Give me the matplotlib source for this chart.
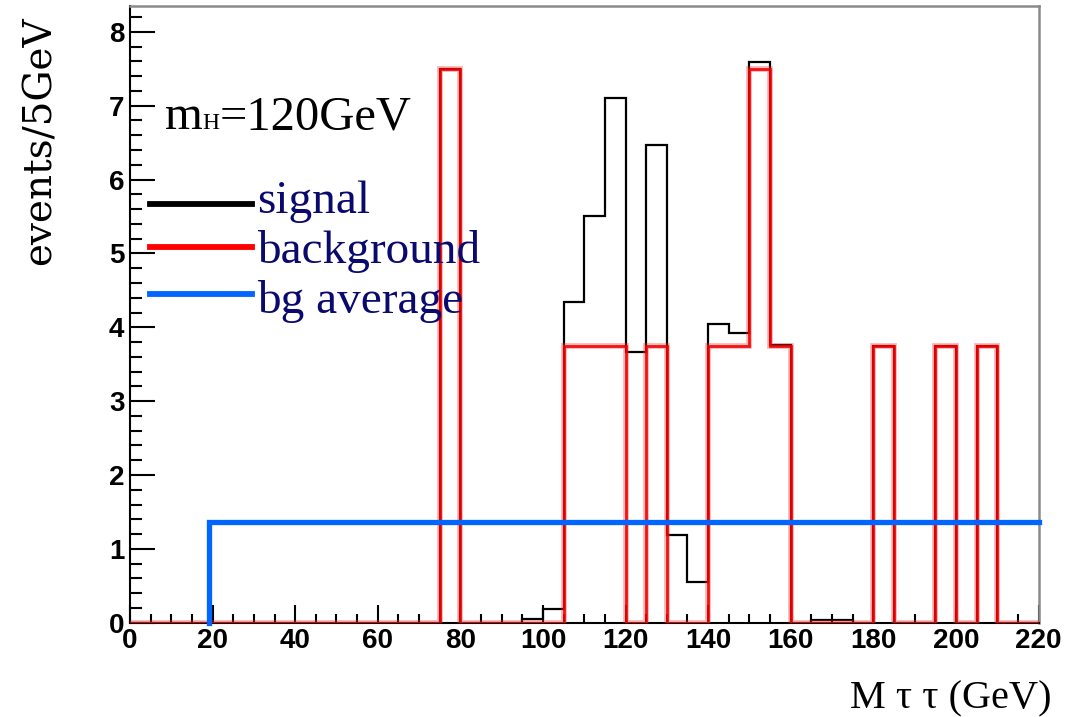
import numpy as np
import matplotlib
matplotlib.use("Agg")
import matplotlib.pyplot as plt
from matplotlib.lines import Line2D
from matplotlib.ticker import MultipleLocator

# 5 GeV bins from 0 to 220 GeV
bin_edges = np.arange(0, 225, 5)

# background histogram (events per 5 GeV), one value per bin
background = [
    0, 0, 0, 0, 0, 0, 0, 0, 0, 0, 0, 0, 0, 0, 0,   # 0-75
    7.5,                                           # 75-80
    0, 0, 0, 0, 0,                                 # 80-105
    3.75, 3.75, 3.75,                              # 105-120
    0,                                             # 120-125
    3.75,                                          # 125-130
    0, 0,                                          # 130-140
    3.75, 3.75,                                    # 140-150
    7.5,                                           # 150-155
    3.75,                                          # 155-160
    0, 0, 0, 0,                                    # 160-180
    3.75,                                          # 180-185
    0, 0,                                          # 185-195
    3.75,                                          # 195-200
    0,                                             # 200-205
    3.75,                                          # 205-210
    0, 0,                                          # 210-220
]

# signal contribution stacked on top of the background
signal = [
    0, 0, 0, 0, 0, 0, 0, 0, 0, 0, 0, 0, 0, 0, 0,   # 0-75
    0,                                             # 75-80
    0, 0, 0, 0.05, 0.18,                           # 80-105
    0.59, 1.76, 3.36,                              # 105-120
    3.66,                                          # 120-125
    2.72,                                          # 125-130
    1.19, 0.55,                                    # 130-140
    0.30, 0.17,                                    # 140-150
    0.09,                                          # 150-155
    0.01,                                          # 155-160
    0, 0.03, 0.03, 0,                              # 160-180
    0,                                             # 180-185
    0, 0,                                          # 185-195
    0,                                             # 195-200
    0,                                             # 200-205
    0,                                             # 205-210
    0, 0,                                          # 210-220
]

# average background level and where it starts
bg_average = 1.37
bg_average_start = 19.2
x_max = 220

W, H = 1079, 717
fig = plt.figure(figsize=(W / 100, H / 100), dpi=100)
ax = fig.add_axes([130 / W, 94.3 / H, 908.5 / W, 616.7 / H])

bg = np.array(background, dtype=float)
total = bg + np.array(signal, dtype=float)

ax.stairs(total, bin_edges, color="black", lw=1.6, zorder=2)
ax.stairs(bg, bin_edges, color="#ff3030", lw=4.2, alpha=0.35, zorder=3)
ax.stairs(bg, bin_edges, color="#f00000", lw=2.0, alpha=0.9, zorder=4)

ax.plot([bg_average_start, bg_average_start, x_max], [0, bg_average, bg_average],
        color="#0066ff", lw=3.8, solid_joinstyle="miter", zorder=5, clip_on=False)

ax.set_xlim(0, x_max)
ax.set_ylim(0, 8.35)

ax.xaxis.set_major_locator(MultipleLocator(20))
ax.xaxis.set_minor_locator(MultipleLocator(5))
ax.yaxis.set_major_locator(MultipleLocator(1))
ax.yaxis.set_minor_locator(MultipleLocator(0.2))
ax.tick_params(which="both", direction="in", top=False, right=False, width=1.5, color="black")
ax.tick_params(axis="x", which="major", length=13, pad=4)
ax.tick_params(axis="x", which="minor", length=6.5)
ax.tick_params(axis="y", which="major", length=18, pad=4)
ax.tick_params(axis="y", which="minor", length=8.5)

for lab in ax.get_xticklabels() + ax.get_yticklabels():
    lab.set_fontfamily("Liberation Sans")
    lab.set_fontweight("bold")
    lab.set_fontsize(20)

for side in ("left", "bottom"):
    ax.spines[side].set_color("black")
    ax.spines[side].set_linewidth(1.5)
for side in ("top", "right"):
    ax.spines[side].set_color("#8a8a8a")
    ax.spines[side].set_linewidth(1.8)

serif = "Liberation Serif"

# axis titles
fig.text(40 / W, 1 - 141 / H, "events/5GeV", rotation=90, ha="center", va="center",
         fontfamily="DejaVu Serif", fontsize=28, color="black")
fig.text(1052 / W, 1 - 708 / H, "M τ τ (GeV)", ha="right", va="baseline",
         fontfamily=serif, fontsize=29, color="black")

# Higgs mass label with small-caps H
fig.canvas.draw()
renderer = fig.canvas.get_renderer()
x0, yb = 165 / W, 1 - 129 / H
t1 = fig.text(x0, yb, "m", ha="left", va="baseline", fontfamily=serif, fontsize=35)
bb = t1.get_window_extent(renderer)
t2 = fig.text(bb.x1 / W, yb, "H", ha="left", va="baseline", fontfamily=serif, fontsize=17)
bb2 = t2.get_window_extent(renderer)
fig.text(bb2.x1 / W, yb, "=120GeV", ha="left", va="baseline", fontfamily=serif, fontsize=35)

# legend
legend_entries = [("signal", "black", 204, 213), ("background", "#ff0000", 247, 263),
                  ("bg average", "#0066ff", 294, 313)]
for label, col, y_line, y_text in legend_entries:
    fig.add_artist(Line2D([150 / W, 252 / W], [1 - y_line / H, 1 - y_line / H],
                          color=col, lw=4.2, transform=fig.transFigure))
    fig.text(257 / W, 1 - y_text / H, label, ha="left", va="baseline",
             fontfamily=serif, fontsize=34, color="#0a0a6e")

fig.savefig("out.png", dpi=100)
